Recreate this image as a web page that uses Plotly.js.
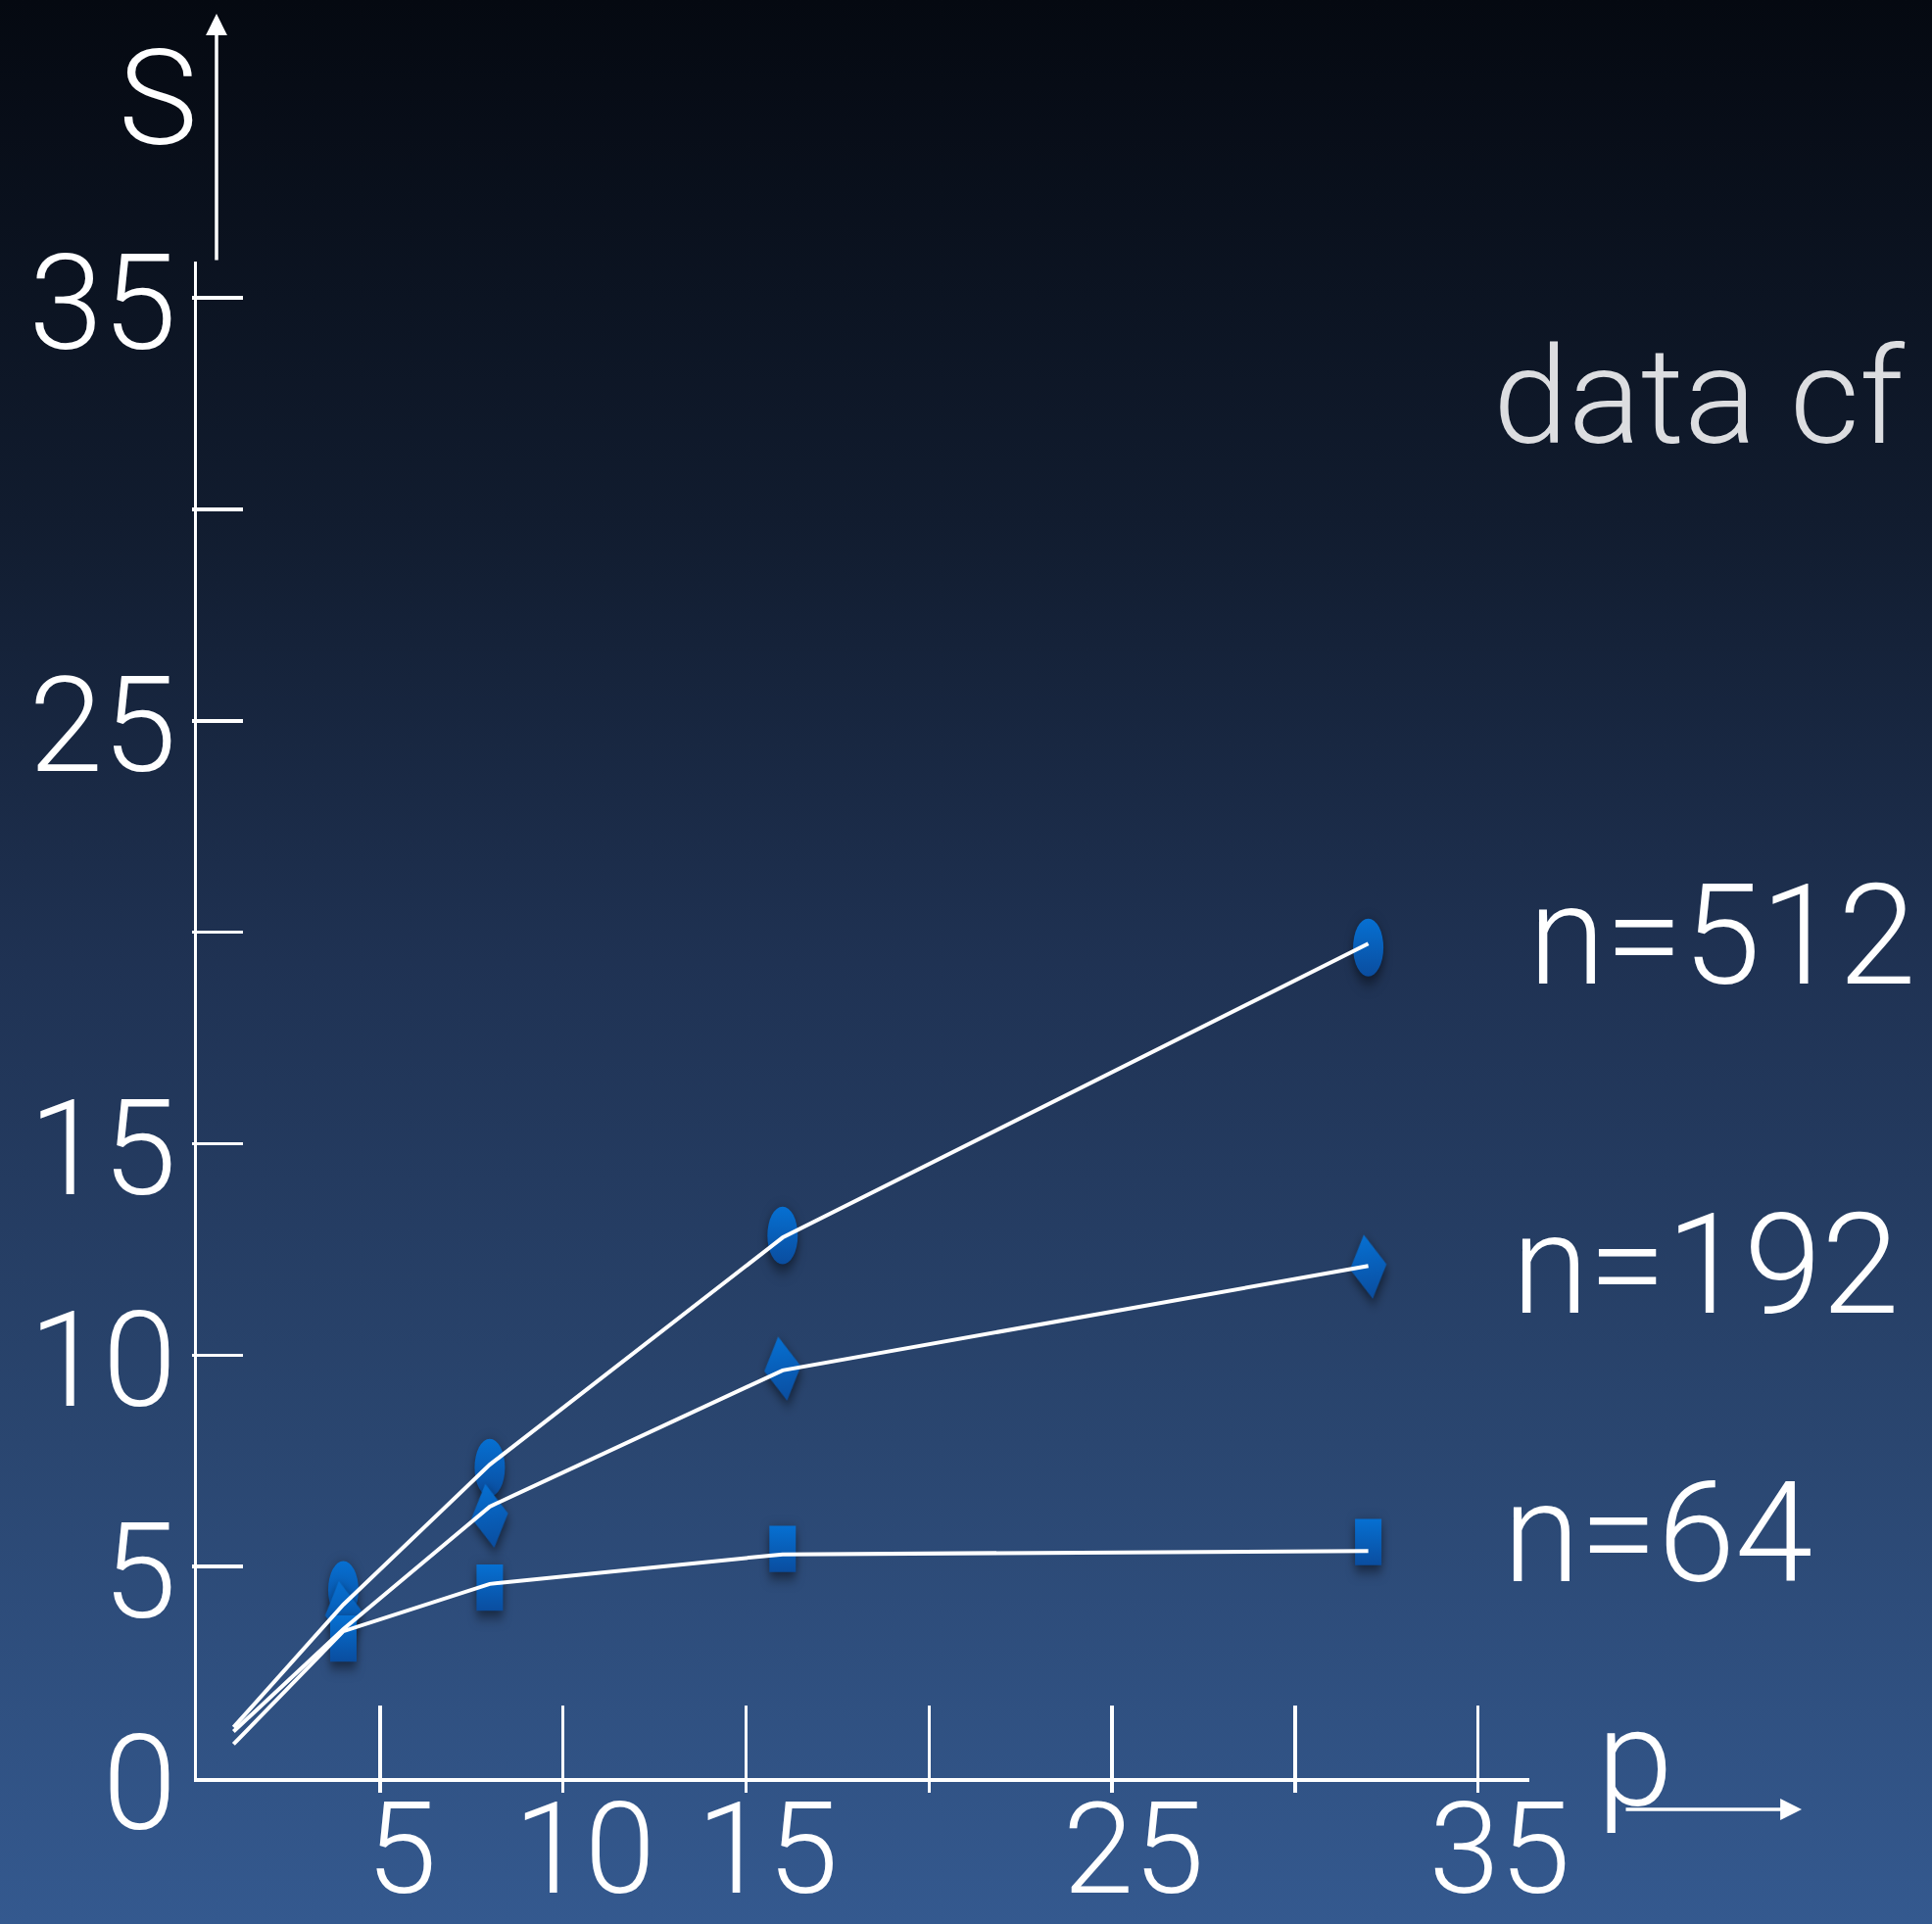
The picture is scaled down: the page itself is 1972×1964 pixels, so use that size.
<!DOCTYPE html>
<html>
<head>
<meta charset="utf-8">
<script src="https://cdn.plot.ly/plotly-3.0.1.min.js"></script>
<style>
  html, body { margin: 0; padding: 0; }
  body {
    width: 1972px; height: 1964px; overflow: hidden;
    background: linear-gradient(to bottom, #050911 0%, #111c2f 27%, #1f3253 50%, #2a4670 75%, #34598f 100%);
  }
  #chart { width: 1972px; height: 1964px; }
</style>
</head>
<body>
<div id="chart"></div>
<script>
// ---- data ----
const procs = [4, 8, 16, 32];                 // p values of measured points
const speedup512 = [4.45, 7.34, 12.83, 19.64];
const speedup192 = [3.9, 6.2, 9.68, 12.09];
const speedup64  = [3.3, 4.5, 5.42, 5.58];

const procsCurve = [1, 4, 8, 16, 32];         // p values of the white curves
const curve512 = [1.2, 4.1, 7.41, 12.78, 19.73];
const curve192 = [1.1, 3.52, 6.42, 9.64, 12.11];
const curve64  = [0.8, 3.47, 4.59, 5.29, 5.37];

const seriesNames = ['n=512', 'n=192', 'n=64'];
const xTickVals = [5, 10, 15, 20, 25, 30, 35];
const xTickText = ['5', '10', '15', '', '25', '', '35'];
const yTickVals = [0, 5, 10, 15, 20, 25, 30, 35];
const yTickText = ['0', '5', '10', '15', '', '25', '', '35'];

// ---- layout geometry ----
const W = 1972, H = 1964;
const L = 201, R = 1561, T = 267, B = 1815;
const X_MAX = 36.4, Y_MAX = 35.86;
const px = v => (v - L) / (R - L);
const py = v => (B - v) / (B - T);

const FONT = 'Roboto, "Liberation Sans", sans-serif';
const white = '#ffffff';
const markerBlue = '#0a5fbf';

const traces = [
  { x: procs, y: speedup512, mode: 'markers', name: seriesNames[0], meta: 'ell',
    marker: { symbol: 'circle', size: 31, color: markerBlue, line: { width: 0 } }, hoverinfo: 'skip' },
  { x: procs, y: speedup192, mode: 'markers', name: seriesNames[1], meta: 'dia',
    marker: { symbol: 'diamond', size: 29, color: markerBlue, line: { width: 0 } }, hoverinfo: 'skip' },
  { x: procs, y: speedup64, mode: 'markers', name: seriesNames[2], meta: 'rect',
    marker: { symbol: 'square', size: 27, color: markerBlue, line: { width: 0 } }, hoverinfo: 'skip' },
  { x: procsCurve, y: curve512, mode: 'lines', line: { color: white, width: 4 }, hoverinfo: 'skip' },
  { x: procsCurve, y: curve192, mode: 'lines', line: { color: white, width: 4 }, hoverinfo: 'skip' },
  { x: procsCurve, y: curve64,  mode: 'lines', line: { color: white, width: 4 }, hoverinfo: 'skip' },
  { x: [null], y: [null], xaxis: 'x2', yaxis: 'y2', mode: 'markers', hoverinfo: 'skip' }
];

const layout = {
  width: W, height: H,
  showlegend: false,
  paper_bgcolor: 'rgba(0,0,0,0)',
  plot_bgcolor: 'rgba(0,0,0,0)',
  margin: { l: L, r: W - R, t: T, b: H - B, pad: 0 },
  xaxis: {
    range: [0, X_MAX], showgrid: false, zeroline: false,
    showline: true, linecolor: white, linewidth: 3.5,
    ticks: 'inside', ticklen: 74, tickwidth: 3.5, tickcolor: white,
    tickmode: 'array', tickvals: xTickVals, ticktext: xTickText,
    tickfont: { family: FONT, size: 130, color: white, weight: 300 },
    ticklabelstandoff: -43, ticklabelshift: 22
  },
  yaxis: {
    range: [0, Y_MAX], showgrid: false, zeroline: false,
    showline: true, linecolor: white, linewidth: 3.5,
    ticks: 'inside', ticklen: 47, tickwidth: 3.5, tickcolor: white,
    tickmode: 'array', tickvals: yTickVals, ticktext: yTickText,
    tickfont: { family: FONT, size: 136, color: white, weight: 300 },
    ticklabelstandoff: -10, ticklabelshift: 4
  },
  xaxis2: {
    overlaying: 'x', anchor: 'y2', range: [0, X_MAX], showgrid: false, zeroline: false,
    showline: false, ticks: 'outside', ticklen: 14, tickwidth: 3.5, tickcolor: white,
    tickmode: 'array', tickvals: xTickVals, showticklabels: false
  },
  yaxis2: {
    overlaying: 'y', anchor: 'x2', range: [0, Y_MAX], showgrid: false, zeroline: false,
    showline: false, ticks: 'outside', ticklen: 4, tickwidth: 3.5, tickcolor: white,
    tickmode: 'array', tickvals: yTickVals.slice(1), showticklabels: false
  },
  annotations: [
    // axis arrows
    { xref: 'paper', yref: 'paper', x: px(221), y: py(14), ax: 0, ay: 253, axref: 'pixel', ayref: 'pixel',
      text: '', showarrow: true, arrowhead: 2, arrowsize: 1.25, arrowwidth: 3.5, arrowcolor: white, standoff: 0 },
    { xref: 'paper', yref: 'paper', x: px(1839), y: py(1847), ax: -181, ay: 0, axref: 'pixel', ayref: 'pixel',
      text: '', showarrow: true, arrowhead: 2, arrowsize: 1.25, arrowwidth: 3.5, arrowcolor: white, standoff: 0 },
    // axis titles
    { xref: 'paper', yref: 'paper', x: px(204), y: py(100), xanchor: 'right', yanchor: 'middle',
      text: 'S', showarrow: false, font: { family: FONT, size: 136, color: white, weight: 300 } },
    { xref: 'paper', yref: 'paper', x: px(1628), y: py(1795), xanchor: 'left', yanchor: 'middle',
      text: 'p', showarrow: false, font: { family: FONT, size: 140, color: white, weight: 300 } },
    // header
    { xref: 'paper', yref: 'paper', x: px(1522), y: py(405), xanchor: 'left', yanchor: 'middle',
      text: 'data cf', showarrow: false, font: { family: FONT, size: 138, color: '#dcdde0', weight: 300 } },
    // series labels
    { xref: 'paper', yref: 'paper', x: px(1558), y: py(955), xanchor: 'left', yanchor: 'middle',
      text: seriesNames[0], showarrow: false, font: { family: FONT, size: 143, color: white, weight: 300 } },
    { xref: 'paper', yref: 'paper', x: px(1541), y: py(1291), xanchor: 'left', yanchor: 'middle',
      text: seriesNames[1], showarrow: false, font: { family: FONT, size: 143, color: white, weight: 300 } },
    { xref: 'paper', yref: 'paper', x: px(1532), y: py(1565), xanchor: 'left', yanchor: 'middle',
      text: seriesNames[2], showarrow: false, font: { family: FONT, size: 143, color: white, weight: 300 } }
  ]
};

Plotly.newPlot('chart', traces, layout, { staticPlot: true, displayModeBar: false }).then(gd => {
  // marker styling: tall shapes, vertical gradient, soft shadow
  const svg = gd.querySelector('svg.main-svg');
  const NS = 'http://www.w3.org/2000/svg';
  const defs = document.createElementNS(NS, 'defs');
  defs.innerHTML =
    '<linearGradient id="mkgrad" x1="0" y1="0" x2="0" y2="1">' +
    '<stop offset="0" stop-color="#0670d2"/><stop offset="1" stop-color="#0a4d9f"/></linearGradient>';
  svg.insertBefore(defs, svg.firstChild);
  const stretch = { ell: 'scale(1,1.9)', dia: 'rotate(-8) scale(1,1.75)', rect: 'scale(1,1.75)' };
  gd.querySelectorAll('.scatterlayer .trace').forEach(tr => {
    const d = tr.__data__ && tr.__data__[0] && tr.__data__[0].trace;
    if (!d || !stretch[d.meta]) return;
    tr.querySelectorAll('path.point').forEach(pt => {
      const t = pt.getAttribute('transform') || '';
      pt.setAttribute('transform', t + ' ' + stretch[d.meta]);
      pt.style.fill = 'url(#mkgrad)';
      pt.style.filter = 'drop-shadow(0px 3px 4px rgba(0,0,0,0.55))';
    });
  });
});
</script>
</body>
</html>
